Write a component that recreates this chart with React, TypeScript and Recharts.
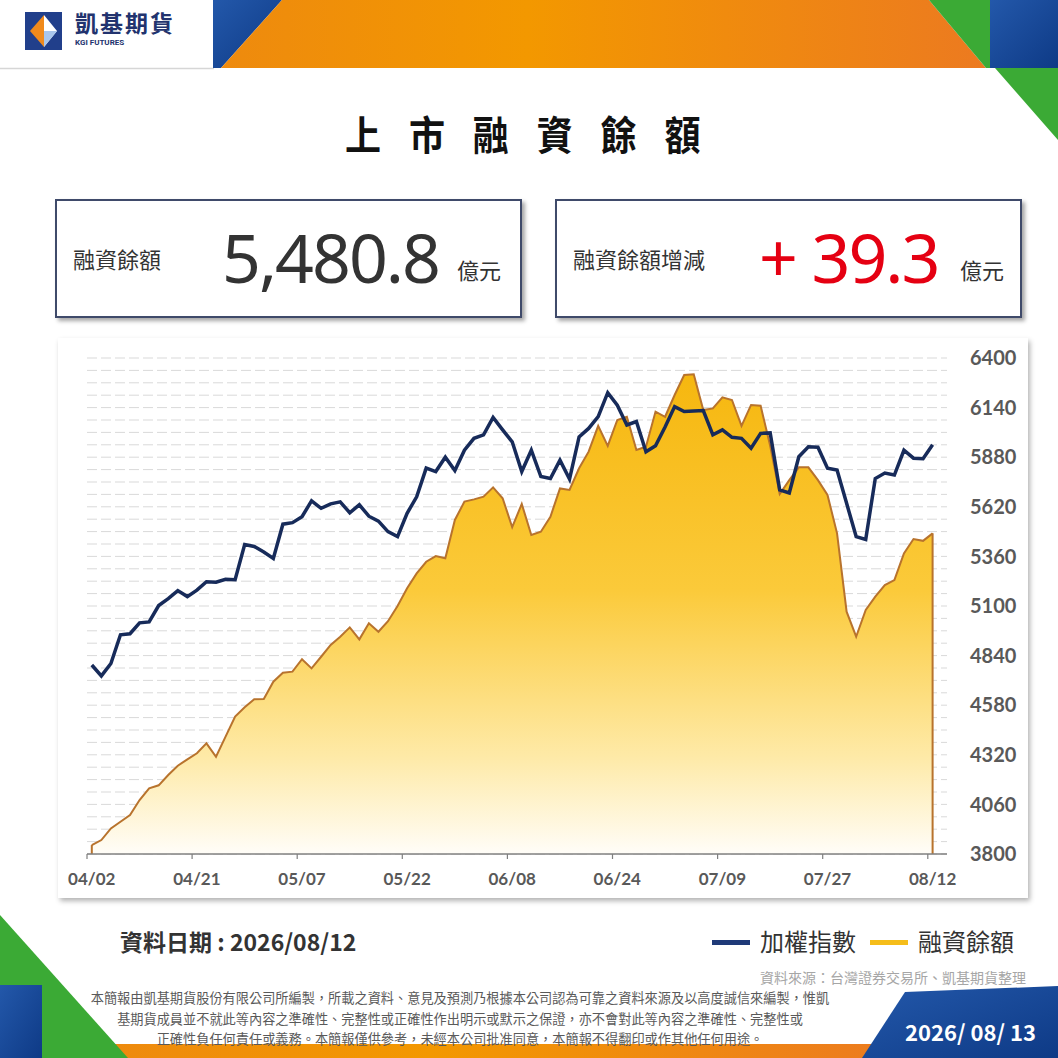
import React from 'react'
import { ComposedChart, Area, Line, XAxis, YAxis, CartesianGrid, ReferenceLine } from 'recharts'

const DATES = [
  '04/02', '04/07', '04/08', '04/09', '04/10', '04/13', '04/14', '04/15', '04/16', '04/17',
  '04/20', '04/21', '04/22', '04/23', '04/24', '04/27', '04/28', '04/29', '04/30', '05/04',
  '05/05', '05/06', '05/07', '05/08', '05/11', '05/12', '05/13', '05/14', '05/15', '05/18',
  '05/19', '05/20', '05/21', '05/22', '05/25', '05/26', '05/27', '05/28', '05/29', '06/01',
  '06/02', '06/03', '06/04', '06/05', '06/08', '06/09', '06/10', '06/11', '06/12', '06/15',
  '06/16', '06/17', '06/18', '06/22', '06/23', '06/24', '06/25', '06/26', '06/29', '06/30',
  '07/01', '07/02', '07/03', '07/06', '07/07', '07/08', '07/09', '07/10', '07/13', '07/14',
  '07/15', '07/16', '07/20', '07/21', '07/22', '07/23', '07/24', '07/27', '07/28', '07/29',
  '07/30', '07/31', '08/03', '08/04', '08/05', '08/06', '08/07', '08/11', '08/12',
]

// 融資餘額 (億元)
const MARGIN = [
  3847, 3873, 3934, 3969, 4004, 4083, 4144, 4160, 4214, 4263,
  4296, 4328, 4380, 4310, 4415, 4520, 4569, 4611, 4613, 4703,
  4750, 4756, 4821, 4773, 4834, 4896, 4939, 4988, 4925, 5009,
  4965, 5020, 5100, 5193, 5271, 5332, 5362, 5350, 5551, 5647,
  5659, 5673, 5722, 5665, 5513, 5635, 5472, 5489, 5568, 5716,
  5708, 5822, 5909, 6044, 5939, 6075, 6092, 5918, 5935, 6119,
  6092, 6206, 6311, 6315, 6127, 6136, 6194, 6180, 6044, 6154,
  6150, 5940, 5687, 5760, 5827, 5827, 5760, 5682, 5481, 5070,
  4939, 5079, 5149, 5210, 5236, 5376, 5451, 5441.5, 5480.8,
]

// 加權指數 (hidden left axis)
const TAIEX = [
  23810, 23590, 23840, 24420, 24440, 24660, 24680, 25010, 25150, 25310,
  25190, 25320, 25490, 25480, 25540, 25530, 26240, 26200, 26090, 25960,
  26650, 26680, 26800, 27120, 26970, 27060, 27100, 26880, 27040, 26810,
  26710, 26500, 26400, 26870, 27200, 27780, 27710, 28000, 27730, 28140,
  28380, 28450, 28800, 28550, 28310, 27710, 28140, 27610, 27570, 27940,
  27560, 28410, 28580, 28820, 29300, 29050, 28650, 28720, 28110, 28230,
  28610, 29020, 28920, 28930, 28940, 28450, 28550, 28400, 28380, 28180,
  28480, 28490, 27340, 27280, 28010, 28210, 28200, 27780, 27740, 27070,
  26400, 26340, 27570, 27680, 27640, 28140, 27980, 27970, 28250,
]

const MARGIN_TICKS = [3800, 4060, 4320, 4580, 4840, 5100, 5360, 5620, 5880, 6140, 6400]

// hidden index-axis ticks, only used for the dashed gridlines
const INDEX_TICKS = [
  20000, 20250, 20500, 20750, 21000, 21250, 21500, 21750, 22000, 22250,
  22500, 22750, 23000, 23250, 23500, 23750, 24000, 24250, 24500, 24750,
  25000, 25250, 25500, 25750, 26000, 26250, 26500, 26750, 27000, 27250,
  27500, 27750, 28000, 28250, 28500, 28750, 29000, 29250, 29500, 29750, 30000,
]

const data = DATES.map((d, i) => ({ date: d, margin: MARGIN[i], taiex: TAIEX[i] }))

const CJK = "'Noto Sans CJK TC', 'Noto Sans CJK SC', sans-serif"
const NAVY = '#172b5a'
const GOLD = '#f5bd1a'

function DateTick({ x, y, payload }: any) {
  return (
    <g>
      <line x1={x - 4.8} x2={x - 4.8} y1={y} y2={y + 5} stroke="#7f7f7f" strokeWidth={1.2} />
      <text x={x} y={y + 31} textAnchor="middle" fill="#595959" fontSize={17} fontWeight={700} fontFamily="Lato">
        {payload.value}
      </text>
    </g>
  )
}

function Decor() {
  return (
    <svg width={1058} height={1058} style={{ position: 'absolute', left: 0, top: 0 }}>
      <defs>
        <linearGradient id="og" x1="0" y1="0" x2="1" y2="0">
          <stop offset="0%" stopColor="#ee8a0e" />
          <stop offset="40%" stopColor="#f39800" />
          <stop offset="100%" stopColor="#ec7a20" />
        </linearGradient>
        <linearGradient id="bg" x1="0" y1="0" x2="1" y2="1">
          <stop offset="0%" stopColor="#2358aa" />
          <stop offset="100%" stopColor="#0e3a86" />
        </linearGradient>
      </defs>
      {/* header */}
      <line x1={0} x2={214} y1={68.5} y2={68.5} stroke="#d6d6d6" strokeWidth={1.5} />
      <polygon points="213,0 282,0 221,68 213,68" fill="url(#bg)" />
      <polygon points="282,0 929,0 986,68 221,68" fill="url(#og)" />
      <polygon points="929,0 990,0 990,68 986,68" fill="#3baa35" />
      <rect x={990} y={0} width={68} height={68} fill="url(#bg)" />
      <polygon points="995,68 1058,68 1058,140" fill="#3baa35" />
      {/* logo */}
      <rect x={25} y={12} width={37} height={38} fill="#213f8b" />
      <polygon points="30,31 44,15 44,47" fill="#f08a1c" />
      <polygon points="44,15 57,31 44,47" fill="#ffffff" />
      <polygon points="44,31 57,31 44,47" fill="#a9c6ec" />
      {/* footer */}
      <rect x={110} y={1044} width={800} height={14} fill="url(#og)" />
      <polygon points="0,915 0,1058 128,1058" fill="#3baa35" />
      <rect x={0} y={985} width={42} height={73} fill="url(#bg)" />
      <polygon points="862,1058 905,992 1058,986 1058,1058" fill="url(#bg)" />
    </svg>
  )
}

const abs = (o: React.CSSProperties): React.CSSProperties => ({ position: 'absolute', whiteSpace: 'nowrap', ...o })

function StatBox({ left, label, value, valueColor, valueLeft, unitLeft }: any) {
  return (
    <>
      <div style={abs({ left, top: 199, width: 467, height: 119, boxSizing: 'border-box', border: '2px solid #3f4a6a', boxShadow: '3px 3px 4px rgba(0,0,0,0.35)', background: '#fff' })} />
      <div style={abs({ left: left + 18, top: 247, fontSize: 22, lineHeight: 1, color: '#333', fontFamily: CJK })}>{label}</div>
      <div style={abs({ left: valueLeft, top: 223, fontSize: 68, lineHeight: 1, letterSpacing: -2, color: valueColor, fontFamily: "'Noto Sans', sans-serif" })}>{value}</div>
      <div style={abs({ left: unitLeft, top: 258, fontSize: 22, lineHeight: 1, color: '#333', fontFamily: CJK })}>億元</div>
    </>
  )
}

export default function App() {
  return (
    <div style={{ position: 'absolute', left: 0, top: 0, width: 1058, height: 1058, background: '#fff', overflow: 'hidden', fontFamily: CJK }}>
      <Decor />
      <div style={abs({ left: 75, top: 11, fontSize: 23, lineHeight: 1, fontWeight: 700, color: '#22336e', letterSpacing: 2 })}>凱基期貨</div>
      <div style={abs({ left: 75, top: 39, fontSize: 8, lineHeight: 1, fontWeight: 700, color: '#22336e', fontFamily: 'Roboto' })}>KGI FUTURES</div>

      <div style={abs({ left: 345, top: 113, fontSize: 40, lineHeight: 1, fontWeight: 700, letterSpacing: 31, color: '#111', transform: 'scaleX(0.9)', transformOrigin: 'left top' })}>上市融資餘額</div>

      <StatBox left={55} label="融資餘額" value="5,480.8" valueColor="#333" valueLeft={222} unitLeft={457} />
      <StatBox left={555} label="融資餘額增減" value="+ 39.3" valueColor="#e50012" valueLeft={759} unitLeft={960} />

      <div style={abs({ left: 58, top: 338, width: 970, height: 560, background: '#fff', boxShadow: '2px 3px 5px rgba(0,0,0,0.3)' })}>
        <ComposedChart width={970} height={560} data={data} margin={{ top: 20, right: 11, bottom: 8, left: 29 }}>
          <defs>
            <linearGradient id="mGrad" x1="0" y1="0" x2="0" y2="1">
              <stop offset="0%" stopColor="#f6b70f" />
              <stop offset="45%" stopColor="#fbca3a" />
              <stop offset="80%" stopColor="#feeaa8" />
              <stop offset="100%" stopColor="#fffdf8" />
            </linearGradient>
          </defs>
          <CartesianGrid yAxisId="idx" vertical={false} stroke="#d9d9d9" strokeDasharray="10 4" />
          <XAxis
            dataKey="date"
            scale="point"
            padding={{ left: 4.8, right: 14.4 }}
            interval={10}
            height={36}
            tickSize={0}
            tickMargin={0}
            tickLine={false}
            axisLine={{ stroke: '#808080', strokeWidth: 1.5 }}
            tick={<DateTick />}
          />
          <YAxis yAxisId="idx" hide width={0} domain={[20000, 30000]} ticks={INDEX_TICKS} interval={0} allowDataOverflow />
          <YAxis
            yAxisId="m"
            orientation="right"
            width={70}
            domain={[3800, 6400]}
            ticks={MARGIN_TICKS}
            interval={0}
            axisLine={false}
            tickLine={false}
            tickSize={0}
            tickMargin={23}
            tick={{ fill: '#595959', fontSize: 20, fontWeight: 700, fontFamily: 'Lato' }}
          />
          <Area
            yAxisId="m"
            type="linear"
            dataKey="margin"
            stroke="#b8732d"
            strokeWidth={2}
            fill="url(#mGrad)"
            fillOpacity={1}
            baseValue={3800}
            isAnimationActive={false}
          />
          <ReferenceLine yAxisId="m" segment={[{ x: DATES[0], y: 3800 }, { x: DATES[0], y: MARGIN[0] }]} stroke="#b8732d" strokeWidth={2} />
          <ReferenceLine yAxisId="m" segment={[{ x: DATES[DATES.length - 1], y: 3800 }, { x: DATES[DATES.length - 1], y: MARGIN[MARGIN.length - 1] }]} stroke="#b8732d" strokeWidth={2} />
          <Line yAxisId="idx" type="linear" dataKey="taiex" stroke={NAVY} strokeWidth={3.5} dot={false} isAnimationActive={false} />
        </ComposedChart>
      </div>

      <div style={abs({ left: 120, top: 930, fontSize: 23, lineHeight: 1, fontWeight: 700, color: '#333' })}>資料日期 : 2026/08/12</div>

      <div style={abs({ left: 712, top: 940, width: 38, height: 5, background: '#1f3a78' })} />
      <div style={abs({ left: 760, top: 929, fontSize: 24, lineHeight: 1, color: '#333' })}>加權指數</div>
      <div style={abs({ left: 870, top: 940, width: 38, height: 5, background: GOLD })} />
      <div style={abs({ left: 918, top: 929, fontSize: 24, lineHeight: 1, color: '#333' })}>融資餘額</div>

      <div style={abs({ left: 760, top: 970, fontSize: 14, lineHeight: 1, color: '#a6a6a6' })}>資料來源：台灣證券交易所、凱基期貨整理</div>

      <div style={abs({ left: 51, top: 988, width: 818, textAlign: 'center', fontSize: 13.2, lineHeight: '20.5px', color: '#595959', whiteSpace: 'normal' })}>
        <div>本簡報由凱基期貨股份有限公司所編製，所載之資料、意見及預測乃根據本公司認為可靠之資料來源及以高度誠信來編製，惟凱</div>
        <div>基期貨成員並不就此等內容之準確性、完整性或正確性作出明示或默示之保證，亦不會對此等內容之準確性、完整性或</div>
        <div>正確性負任何責任或義務。本簡報僅供參考，未經本公司批准同意，本簡報不得翻印或作其他任何用途。</div>
      </div>

      <div style={abs({ left: 905, top: 1020, fontSize: 22, lineHeight: 1, fontWeight: 700, color: '#fff' })}>2026/ 08/ 13</div>
    </div>
  )
}
